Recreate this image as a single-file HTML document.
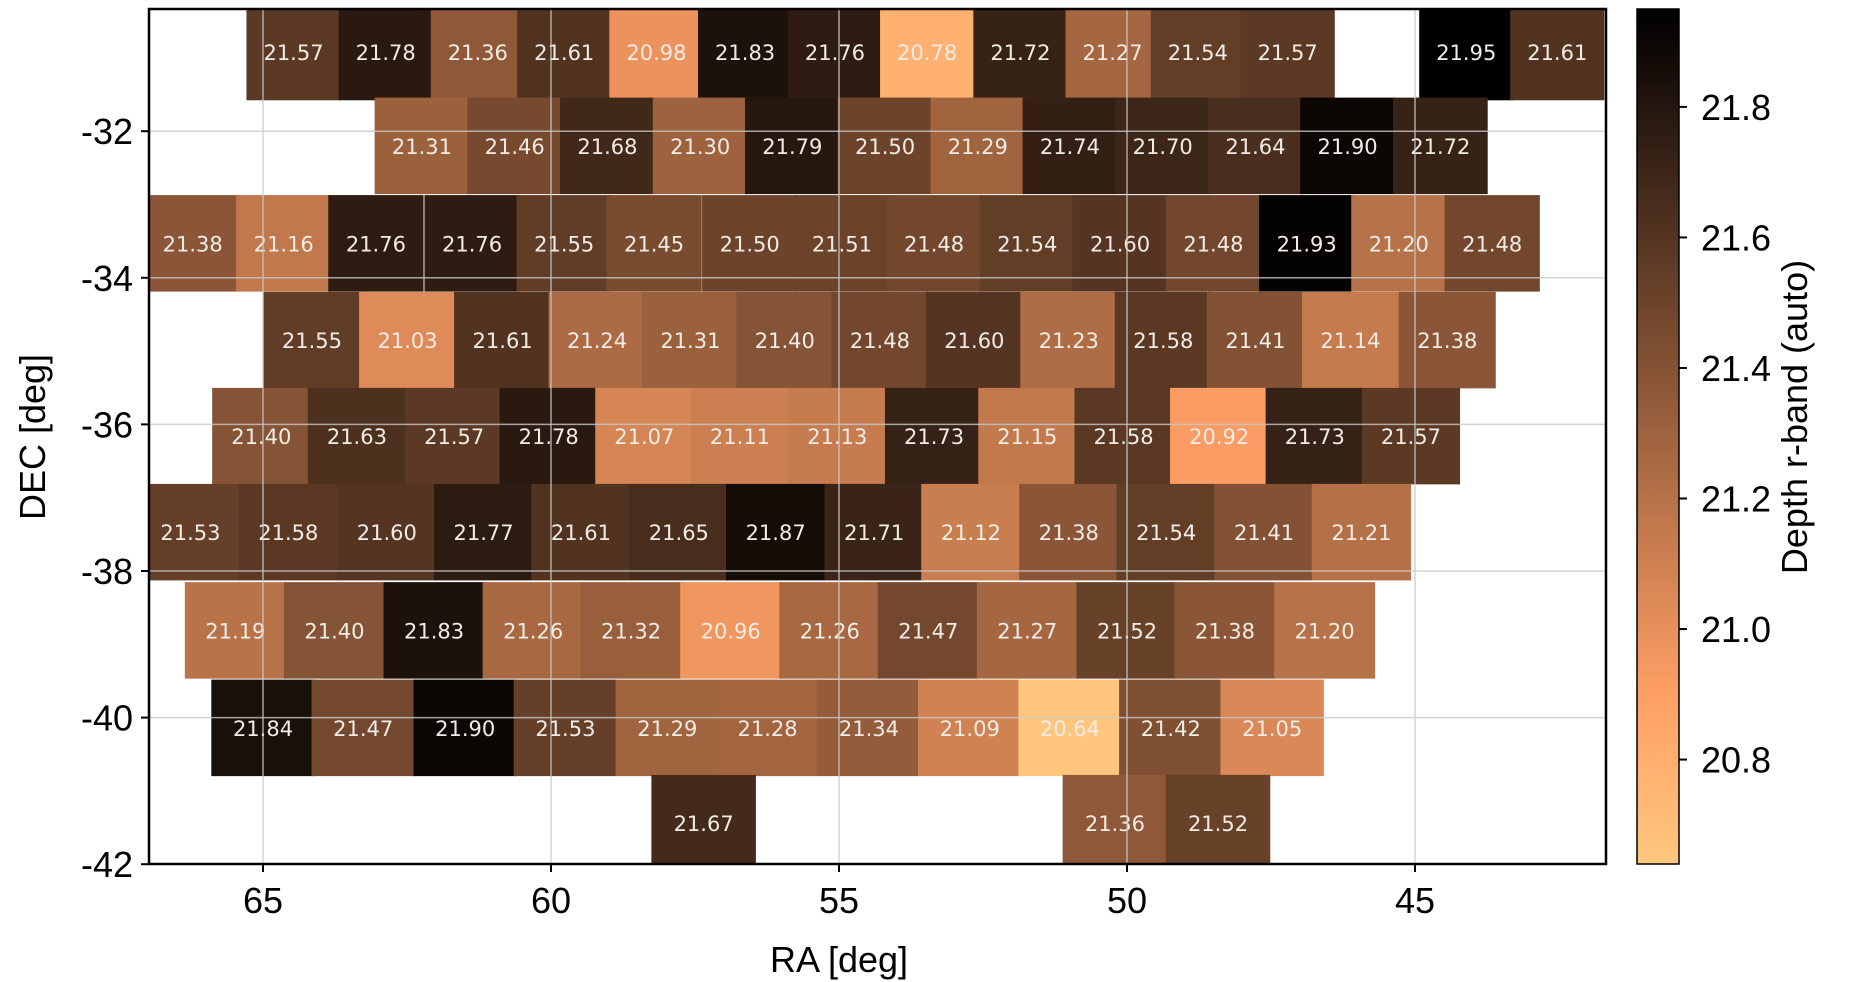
<!DOCTYPE html>
<html><head><meta charset="utf-8">
<style>
html,body{margin:0;padding:0;background:#fff;}
svg{display:block;}
text{font-family:"Liberation Sans",sans-serif;}
.cell{font-family:"DejaVu Sans",sans-serif;font-size:21px;fill:#f2ece6;text-anchor:middle;}
</style></head>
<body>
<svg id="chart" width="1854" height="982" viewBox="0 0 1854 982" xmlns="http://www.w3.org/2000/svg"></svg>
<script>
// ---- data (RA centers in deg, DEC centers in deg, depth values) ----
const rowDec = [-30.92, -32.20, -33.53, -34.85, -36.16, -37.47, -38.81, -40.14, -41.44];
const rowWidthDeg = [1.60, 1.61, 1.62, 1.65, 1.67, 1.69, 1.72, 1.76, 1.78];
const ra0 = [64.47,62.87,61.27,59.77,58.17,56.63,55.07,53.47,51.85,50.25,48.77,47.21,44.11,42.53];
const val0 = [21.57,21.78,21.36,21.61,20.98,21.83,21.76,20.78,21.72,21.27,21.54,21.57,21.95,21.61];
const ra1 = [62.24,60.63,59.02,57.41,55.81,54.20,52.59,50.99,49.38,47.77,46.17,44.56];
const val1 = [21.31,21.46,21.68,21.30,21.79,21.50,21.29,21.74,21.70,21.64,21.90,21.72];
const ra2 = [66.22,64.64,63.04,61.37,59.77,58.21,56.55,54.95,53.35,51.73,50.12,48.50,46.88,45.28,43.66];
const val2 = [21.38,21.16,21.76,21.76,21.55,21.45,21.50,21.51,21.48,21.54,21.60,21.48,21.93,21.20,21.48];
const ra3 = [64.15,62.49,60.84,59.20,57.58,55.94,54.29,52.65,51.01,49.37,47.77,46.12,44.44];
const val3 = [21.55,21.03,21.61,21.24,21.31,21.40,21.48,21.60,21.23,21.58,21.41,21.14,21.38];
const ra4 = [65.03,63.37,61.68,60.04,58.38,56.72,55.03,53.35,51.73,50.06,48.40,46.74,45.07];
const val4 = [21.40,21.63,21.57,21.78,21.07,21.11,21.13,21.73,21.15,21.58,20.92,21.73,21.57];
const ra5 = [66.26,64.56,62.85,61.17,59.48,57.78,56.10,54.39,52.71,51.01,49.32,47.62,45.93];
const val5 = [21.53,21.58,21.60,21.77,21.61,21.65,21.87,21.71,21.12,21.38,21.54,21.41,21.21];
const ra6 = [65.48,63.76,62.03,60.31,58.61,56.88,55.16,53.45,51.73,50.00,48.30,46.57];
const val6 = [21.19,21.40,21.83,21.26,21.32,20.96,21.26,21.47,21.27,21.52,21.38,21.20];
const ra7 = [65.00,63.26,61.49,59.75,57.98,56.24,54.48,52.73,50.99,49.24,47.48];
const val7 = [21.84,21.47,21.90,21.53,21.29,21.28,21.34,21.09,20.64,21.42,21.05];
const ra8 = [57.35,50.21,48.42];
const val8 = [21.67,21.36,21.52];
const rowRA = [ra0,ra1,ra2,ra3,ra4,ra5,ra6,ra7,ra8];
const rowVal = [val0,val1,val2,val3,val4,val5,val6,val7,val8];
const xTicks = [65,60,55,50,45];
const yTicks = [-32,-34,-36,-38,-40,-42];
const cbTicks = [20.8,21.0,21.2,21.4,21.6,21.8];
const vmin = 20.64, vmax = 21.95;

// ---- layout ----
const L=149,R=1606,T=9,B=864;
const xs = ra => 263 + (65-ra)*57.6;
const ys = dec => 131.2 + (-32-dec)*73.3;
const CBL=1637,CBR=1679;
const cy = v => T + (vmax-v)/(vmax-vmin)*(B-T);
function cmap(v){ // copper_r
  let n=(v-vmin)/(vmax-vmin); n=Math.max(0,Math.min(1,n)); const x=1-n;
  const r=Math.min(1,1.25*x)*255, g=0.7812*x*255, b=0.4975*x*255;
  return `rgb(${r|0},${g|0},${b|0})`;
}
const NS="http://www.w3.org/2000/svg";
const svg=document.getElementById('chart');
function mk(tag,attrs,parent){const e=document.createElementNS(NS,tag);for(const k in attrs)e.setAttribute(k,attrs[k]);(parent||svg).appendChild(e);return e;}

const defs=mk('defs',{});
const cp=mk('clipPath',{id:'plotclip'},defs);
mk('rect',{x:L,y:T,width:R-L,height:B-T},cp);
const grad=mk('linearGradient',{id:'cbgrad',x1:0,y1:1,x2:0,y2:0},defs);
for(let i=0;i<=20;i++){const v=vmin+(vmax-vmin)*i/20;mk('stop',{offset:(i/20),'stop-color':cmap(v)},grad);}

const plot=mk('g',{'clip-path':'url(#plotclip)'});


rowDec.forEach((dec,ri)=>{
  const w=rowWidthDeg[ri]*57.6+2, h=96.5;
  rowRA[ri].forEach((ra,i)=>{
    const v=rowVal[ri][i];
    const rc=mk('rect',{x:xs(ra)-w/2,y:ys(dec)-h/2,width:w,height:h,fill:cmap(v)},plot);
    
    
  });
});
rowDec.forEach((dec,ri)=>{
  rowRA[ri].forEach((ra,i)=>{
    const t=mk('text',{x:xs(ra),y:ys(dec)+8,class:'cell'},plot);
    t.textContent=rowVal[ri][i].toFixed(2);
    
    
  });
});
// grid
xTicks.forEach(t=>{const l=mk('line',{x1:xs(t),x2:xs(t),y1:T,y2:B,stroke:'#c8c8c8','stroke-width':1.5,'stroke-opacity':0.8});
  });
yTicks.forEach(t=>{const l=mk('line',{x1:L,x2:R,y1:ys(t),y2:ys(t),stroke:'#c8c8c8','stroke-width':1.5,'stroke-opacity':0.8});
  });
// frame
const fr=mk('rect',{x:L,y:T,width:R-L,height:B-T,fill:'none',stroke:'#000','stroke-width':2.5});

// ticks
xTicks.forEach(t=>{
  mk('line',{x1:xs(t),x2:xs(t),y1:B,y2:B+8,stroke:'#000','stroke-width':2});
  const tx=mk('text',{x:xs(t),y:913,'font-size':36,'text-anchor':'middle'});tx.textContent=t;
  
});
yTicks.forEach(t=>{
  mk('line',{x1:L-8,x2:L,y1:ys(t),y2:ys(t),stroke:'#000','stroke-width':2});
  const tx=mk('text',{x:133,y:ys(t)+13,'font-size':36,'text-anchor':'end'});tx.textContent=t;
  
});
const xt=mk('text',{x:839,y:972,'font-size':36,'text-anchor':'middle'});xt.textContent='RA [deg]';

const yt=mk('text',{x:0,y:0,'font-size':36,'text-anchor':'middle',transform:'translate(45,437) rotate(-90)'});yt.textContent='DEC [deg]';

// colorbar
const cb=mk('rect',{x:CBL,y:T,width:CBR-CBL,height:B-T,fill:'url(#cbgrad)',stroke:'#000','stroke-width':1.5});

cbTicks.forEach(t=>{
  mk('line',{x1:CBR,x2:CBR+8,y1:cy(t),y2:cy(t),stroke:'#000','stroke-width':2});
  const tx=mk('text',{x:1701,y:cy(t)+13,'font-size':36});tx.textContent=t.toFixed(1);
  
});
const ct=mk('text',{x:0,y:0,'font-size':36,'text-anchor':'middle',transform:'translate(1807,417) rotate(-90)'});ct.textContent='Depth r-band (auto)';

</script>
</body></html>
